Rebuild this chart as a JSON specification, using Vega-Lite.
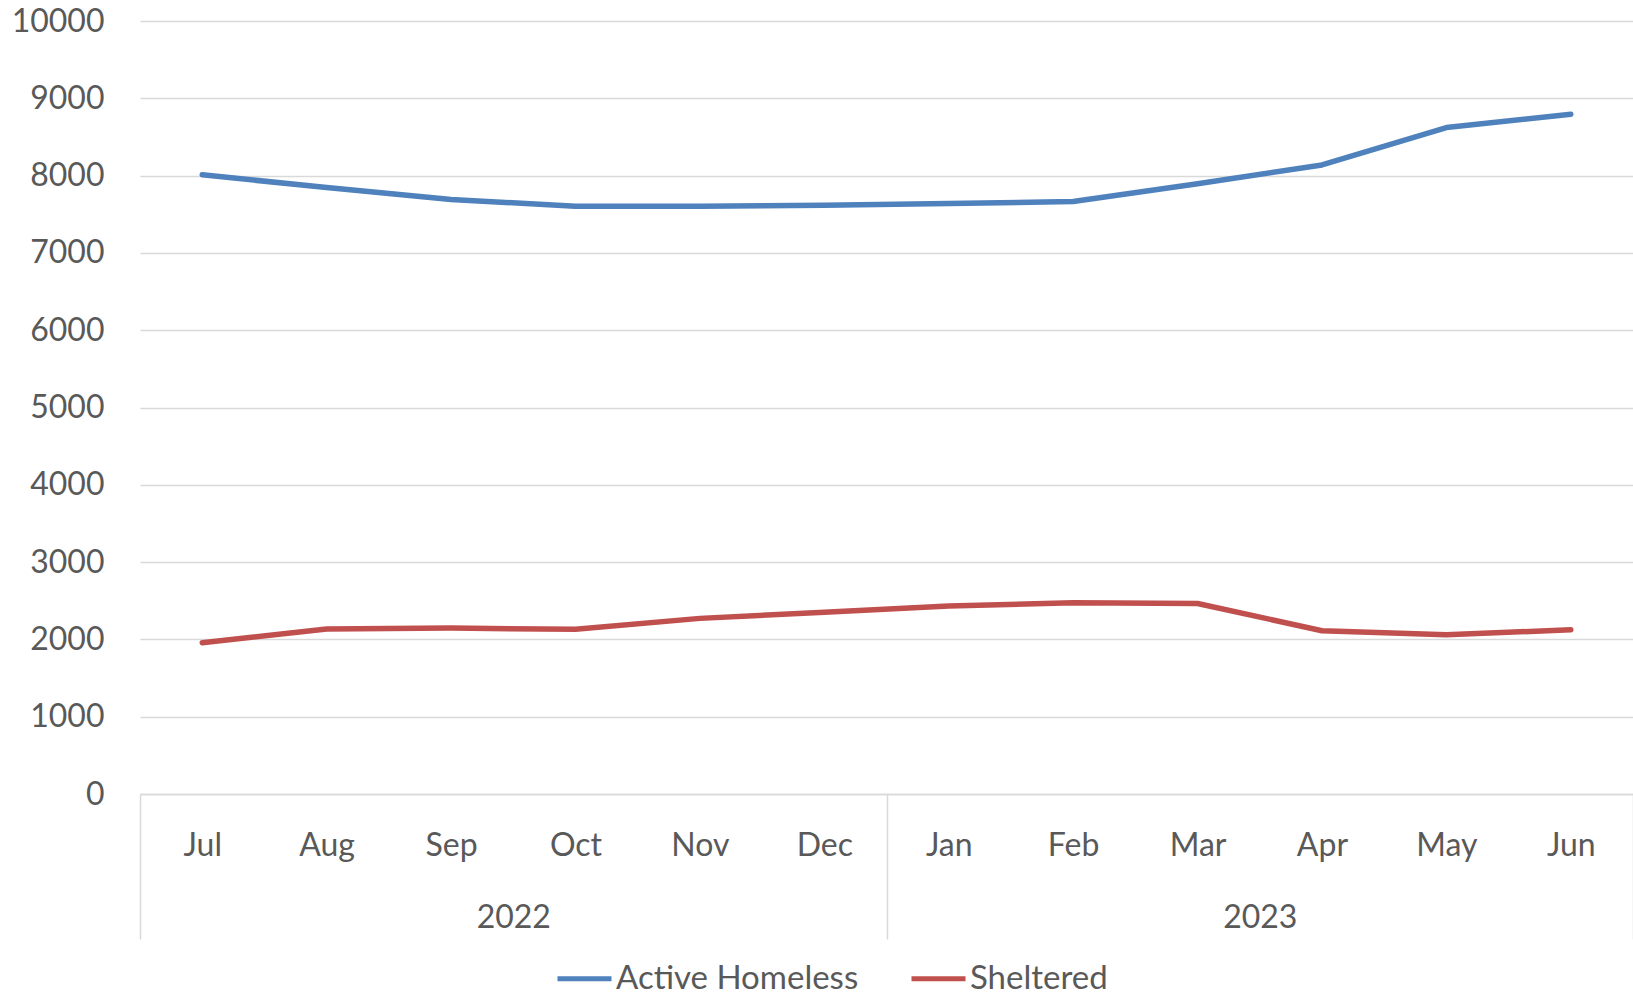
{
  "$schema": "https://vega.github.io/schema/vega-lite/v6.json",
  "autosize": "none",
  "width": 1493,
  "height": 773,
  "padding": {"left": 140, "top": 21, "right": 0, "bottom": 202},
  "config": {"view": {"stroke": null}, "font": "Lato"},
  "data": {
    "values": [
      {"month": "Jul", "year": "2022", "series": "Active Homeless", "value": 8010},
      {"month": "Aug", "year": "2022", "series": "Active Homeless", "value": 7845},
      {"month": "Sep", "year": "2022", "series": "Active Homeless", "value": 7690},
      {"month": "Oct", "year": "2022", "series": "Active Homeless", "value": 7605},
      {"month": "Nov", "year": "2022", "series": "Active Homeless", "value": 7605},
      {"month": "Dec", "year": "2022", "series": "Active Homeless", "value": 7617},
      {"month": "Jan", "year": "2023", "series": "Active Homeless", "value": 7638},
      {"month": "Feb", "year": "2023", "series": "Active Homeless", "value": 7664},
      {"month": "Mar", "year": "2023", "series": "Active Homeless", "value": 7895},
      {"month": "Apr", "year": "2023", "series": "Active Homeless", "value": 8138},
      {"month": "May", "year": "2023", "series": "Active Homeless", "value": 8622},
      {"month": "Jun", "year": "2023", "series": "Active Homeless", "value": 8794},
      {"month": "Jul", "year": "2022", "series": "Sheltered", "value": 1957},
      {"month": "Aug", "year": "2022", "series": "Sheltered", "value": 2134},
      {"month": "Sep", "year": "2022", "series": "Sheltered", "value": 2147},
      {"month": "Oct", "year": "2022", "series": "Sheltered", "value": 2130},
      {"month": "Nov", "year": "2022", "series": "Sheltered", "value": 2272},
      {"month": "Dec", "year": "2022", "series": "Sheltered", "value": 2350},
      {"month": "Jan", "year": "2023", "series": "Sheltered", "value": 2432},
      {"month": "Feb", "year": "2023", "series": "Sheltered", "value": 2475},
      {"month": "Mar", "year": "2023", "series": "Sheltered", "value": 2465},
      {"month": "Apr", "year": "2023", "series": "Sheltered", "value": 2112},
      {"month": "May", "year": "2023", "series": "Sheltered", "value": 2060},
      {"month": "Jun", "year": "2023", "series": "Sheltered", "value": 2125}
    ]
  },
  "layer": [
    {
      "mark": {"type": "line", "strokeWidth": 5.5, "strokeCap": "round", "strokeJoin": "round"},
      "encoding": {
        "x": {
          "field": "month",
          "type": "ordinal",
          "sort": ["Jul", "Aug", "Sep", "Oct", "Nov", "Dec", "Jan", "Feb", "Mar", "Apr", "May", "Jun"],
          "scale": {"type": "point", "padding": 0.5},
          "axis": {
            "title": null,
            "grid": false,
            "ticks": false,
            "domainColor": "#D9D9D9",
            "domainWidth": 1.5,
            "labelFont": "Lato",
            "labelFontSize": 32,
            "labelColor": "#595959",
            "labelPadding": 61,
            "labelBaseline": "alphabetic",
            "labelAngle": 0
          }
        },
        "y": {
          "field": "value",
          "type": "quantitative",
          "scale": {"domain": [0, 10000], "nice": false},
          "axis": {
            "title": null,
            "values": [0, 1000, 2000, 3000, 4000, 5000, 6000, 7000, 8000, 9000, 10000],
            "format": "d",
            "domain": false,
            "ticks": false,
            "gridColor": "#D9D9D9",
            "gridWidth": 1.5,
            "labelFont": "Lato",
            "labelFontSize": 32,
            "labelColor": "#595959",
            "labelPadding": 36
          }
        },
        "color": {
          "field": "series",
          "type": "nominal",
          "scale": {"domain": ["Active Homeless", "Sheltered"], "range": ["#4F81BD", "#C0504D"]},
          "legend": {
            "title": null,
            "orient": "none",
            "direction": "horizontal",
            "legendX": 415,
            "legendY": 928,
            "symbolType": "stroke",
            "symbolSize": 2916,
            "symbolStrokeWidth": 5,
            "labelFont": "Lato",
            "labelFontSize": 33,
            "labelColor": "#595959",
            "labelOffset": 2,
            "columnPadding": 42,
            "labelLimit": 400
          }
        }
      }
    },
    {
      "mark": {"type": "point", "opacity": 0},
      "encoding": {
        "x": {
          "field": "year",
          "type": "nominal",
          "scale": {"type": "band", "paddingInner": 0, "paddingOuter": 0},
          "axis": {
            "title": null,
            "orient": "bottom",
            "domain": false,
            "grid": false,
            "tickBand": "extent",
            "tickSize": 145,
            "tickColor": "#D9D9D9",
            "tickWidth": 1.5,
            "labelPadding": -12,
            "labelBaseline": "alphabetic",
            "labelFont": "Lato",
            "labelFontSize": 32,
            "labelColor": "#595959",
            "labelAngle": 0
          }
        }
      }
    }
  ],
  "resolve": {"scale": {"x": "independent"}}
}
